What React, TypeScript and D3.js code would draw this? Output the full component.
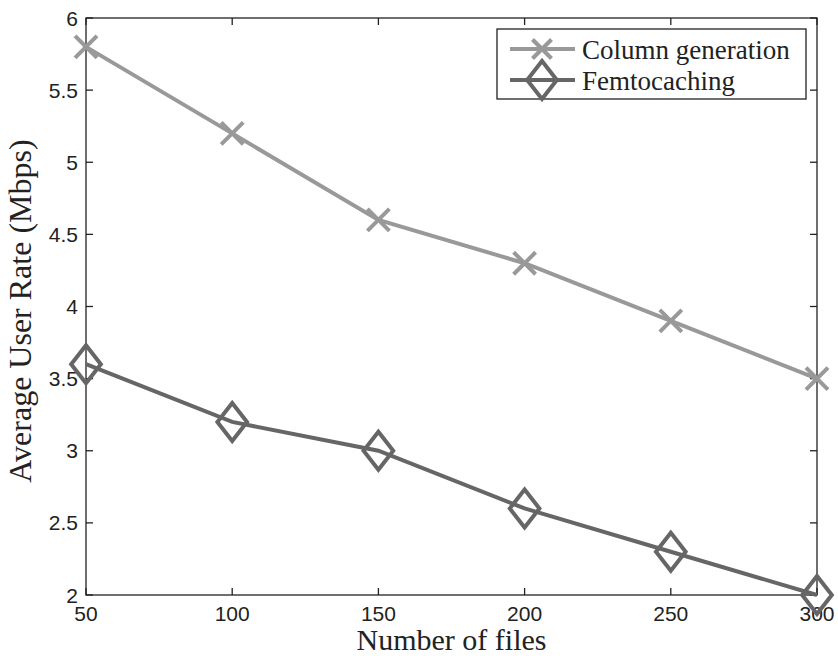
import React from "react";
import * as d3 from "d3";

const xValues = [50, 100, 150, 200, 250, 300];
const columnGeneration = [5.8, 5.2, 4.6, 4.3, 3.9, 3.5];
const femtocaching = [3.6, 3.2, 3.0, 2.6, 2.3, 2.0];
const xTicks = [50, 100, 150, 200, 250, 300];
const yTicks = [2, 2.5, 3, 3.5, 4, 4.5, 5, 5.5, 6];

const W = 838, H = 658;
const L = 86, R = 817, T = 18, B = 595;

export default function App() {
  const x = d3.scaleLinear().domain([50, 300]).range([L, R]);
  const y = d3.scaleLinear().domain([2, 6]).range([B, T]);
  const line = d3.line<number>().x((_, i) => x(xValues[i])).y((d) => y(d));
  const light = "#999999";
  const dark = "#666666";
  const tk = 7;
  const sans = "Liberation Sans, Arial, sans-serif";
  const serif = "Liberation Serif, Times New Roman, serif";
  const xMark = (cx: number, cy: number, s: number, c: string, k: string) => (
    <g key={k} stroke={c} strokeWidth={4} fill="none">
      <line x1={cx - s} y1={cy - s} x2={cx + s} y2={cy + s} />
      <line x1={cx - s} y1={cy + s} x2={cx + s} y2={cy - s} />
    </g>
  );
  const diamond = (cx: number, cy: number, s: number, c: string, k: string) => (
    <path key={k} d={`M${cx},${cy - s}L${cx + s * 0.78},${cy}L${cx},${cy + s}L${cx - s * 0.78},${cy}Z`} stroke={c} strokeWidth={4} fill="none" />
  );
  return (
    <svg width={W} height={H} style={{ position: "absolute", left: 0, top: 0 }}>
      <rect width={W} height={H} fill="#fff" />
      <rect x={L} y={T} width={R - L} height={B - T} fill="none" stroke="#222" strokeWidth={1.3} />
      {xTicks.map((t) => (
        <g key={"xt" + t}>
          <line x1={x(t)} x2={x(t)} y1={B} y2={B - tk} stroke="#222" strokeWidth={1.3} />
          <line x1={x(t)} x2={x(t)} y1={T} y2={T + tk} stroke="#222" strokeWidth={1.3} />
          <text x={x(t)} y={B + 26} textAnchor="middle" fontFamily={sans} fontSize={21} fill="#222">{t}</text>
        </g>
      ))}
      {yTicks.map((t) => (
        <g key={"yt" + t}>
          <line x1={L} x2={L + tk} y1={y(t)} y2={y(t)} stroke="#222" strokeWidth={1.3} />
          <line x1={R} x2={R - tk} y1={y(t)} y2={y(t)} stroke="#222" strokeWidth={1.3} />
          <text x={L - 8} y={y(t) + 7.5} textAnchor="end" fontFamily={sans} fontSize={21} fill="#222">{t}</text>
        </g>
      ))}
      <path d={line(columnGeneration) || ""} fill="none" stroke={light} strokeWidth={4} />
      {columnGeneration.map((v, i) => xMark(x(xValues[i]), y(v), 11, light, "cg" + i))}
      <path d={line(femtocaching) || ""} fill="none" stroke={dark} strokeWidth={4} />
      {femtocaching.map((v, i) => diamond(x(xValues[i]), y(v), 19, dark, "fc" + i))}
      <text x={(L + R) / 2} y={650} textAnchor="middle" fontFamily={serif} fontSize={30} fill="#222">Number of files</text>
      <text transform={`translate(31,311) rotate(-90)`} textAnchor="middle" fontFamily={serif} fontSize={32} fill="#222">Average User Rate (Mbps)</text>
      <rect x={497} y={29} width={309} height={70} fill="#fff" stroke="#222" strokeWidth={1.3} />
      <line x1={510} x2={575} y1={49} y2={49} stroke={light} strokeWidth={4} />
      {xMark(542, 49, 9.5, light, "lg1")}
      <line x1={510} x2={575} y1={80} y2={80} stroke={dark} strokeWidth={4} />
      {diamond(542, 80, 19, dark, "lg2")}
      <text x={582} y={59} fontFamily={serif} fontSize={27} fill="#222">Column generation</text>
      <text x={582} y={90} fontFamily={serif} fontSize={27} fill="#222">Femtocaching</text>
    </svg>
  );
}
